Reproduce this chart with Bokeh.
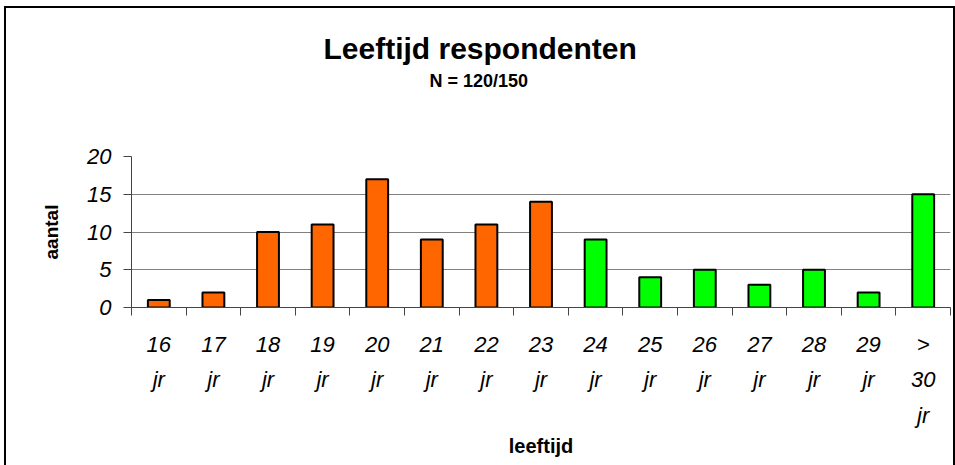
from bokeh.plotting import figure
from bokeh.models import ColumnDataSource, FixedTicker, Range1d, Title
from bokeh.embed import file_html
from bokeh.resources import INLINE

# ---- data ----
categories = ["16\njr", "17\njr", "18\njr", "19\njr", "20\njr", "21\njr", "22\njr", "23\njr",
              "24\njr", "25\njr", "26\njr", "27\njr", "28\njr", "29\njr", ">\n30\njr"]
counts = [1, 2, 10, 11, 17, 9, 11, 14, 9, 4, 5, 3, 5, 2, 15]
groups = ["t/m 23"] * 8 + ["24+"] * 7
group_colors = {"t/m 23": "#FF6600", "24+": "#00FF00"}
y_ticks = [0, 5, 10, 15, 20]
title_text = "Leeftijd respondenten"
subtitle_text = "N = 120/150"
x_label = "leeftijd"
y_label = "aantal"

centers = [i + 0.5 for i in range(len(categories))]
bounds = list(range(len(categories) + 1))
src = ColumnDataSource(dict(x=centers, top=counts, color=[group_colors[g] for g in groups]))

FONT = "Liberation Sans"

p = figure(width=951, height=459, output_backend="svg", toolbar_location=None,
           x_range=Range1d(0, len(categories)), y_range=Range1d(0, 20),
           min_border_left=125, min_border_right=7, min_border_top=148, min_border_bottom=160)
p.styles = {"border-top": "2px solid black", "border-left": "2px solid black",
            "border-right": "2px solid black", "box-sizing": "border-box",
            "margin-left": "4px", "margin-top": "6px"}
p.outline_line_color = None
p.background_fill_color = "white"
p.border_fill_color = "white"

p.vbar(x="x", top="top", width=0.4, bottom=0, source=src,
       fill_color="color", line_color="black", line_width=2)

# titles (spacer closest to the frame, then subtitle, then main title)
spacer = Title(text=" ", text_font=FONT, text_font_size="10px", standoff=49)
sub = Title(text=subtitle_text, align="left", text_font=FONT, text_font_size="18px",
            text_font_style="bold", text_color="black", offset=298, standoff=8)
main = Title(text=title_text, align="left", text_font=FONT, text_font_size="30px",
             text_font_style="bold", text_color="black", offset=192, standoff=0)
p.add_layout(spacer, "above")
p.add_layout(sub, "above")
p.add_layout(main, "above")

# y axis
ya = p.yaxis[0]
ya.ticker = FixedTicker(ticks=y_ticks)
ya.axis_line_color = "#444444"
ya.major_tick_line_color = "#444444"
ya.major_tick_out = 8
ya.major_tick_in = 0
ya.minor_tick_line_color = None
ya.major_label_text_font = FONT
ya.major_label_text_font_style = "italic"
ya.major_label_text_font_size = "22px"
ya.major_label_text_color = "black"
ya.major_label_standoff = 12
ya.axis_label = y_label
ya.axis_label_text_font = FONT
ya.axis_label_text_font_style = "bold"
ya.axis_label_text_font_size = "19px"
ya.axis_label_text_color = "black"
ya.axis_label_standoff = 22

# x axis: labels at centres, tick marks at boundaries
xa = p.xaxis[0]
xa.ticker = FixedTicker(ticks=centers, minor_ticks=bounds)
xa.major_label_overrides = {c: lab for c, lab in zip(centers, categories)}
xa.axis_line_color = "#444444"
xa.major_tick_line_color = None
xa.major_tick_out = 0
xa.major_tick_in = 0
xa.minor_tick_line_color = "#444444"
xa.minor_tick_out = 8
xa.minor_tick_in = 0
xa.major_label_text_font = FONT
xa.major_label_text_font_style = "italic"
xa.major_label_text_font_size = "22px"
xa.major_label_text_color = "black"
xa.major_label_text_line_height = 1.42
xa.major_label_standoff = 16
xa.axis_label = x_label
xa.axis_label_text_font = FONT
xa.axis_label_text_font_style = "bold"
xa.axis_label_text_font_size = "20px"
xa.axis_label_text_color = "black"
xa.axis_label_standoff = 4

p.xgrid.grid_line_color = None
p.ygrid.ticker = FixedTicker(ticks=y_ticks[1:-1])
p.ygrid.grid_line_color = "#808080"
p.ygrid.grid_line_width = 1

open("out.html", "w").write(file_html(p, INLINE))
